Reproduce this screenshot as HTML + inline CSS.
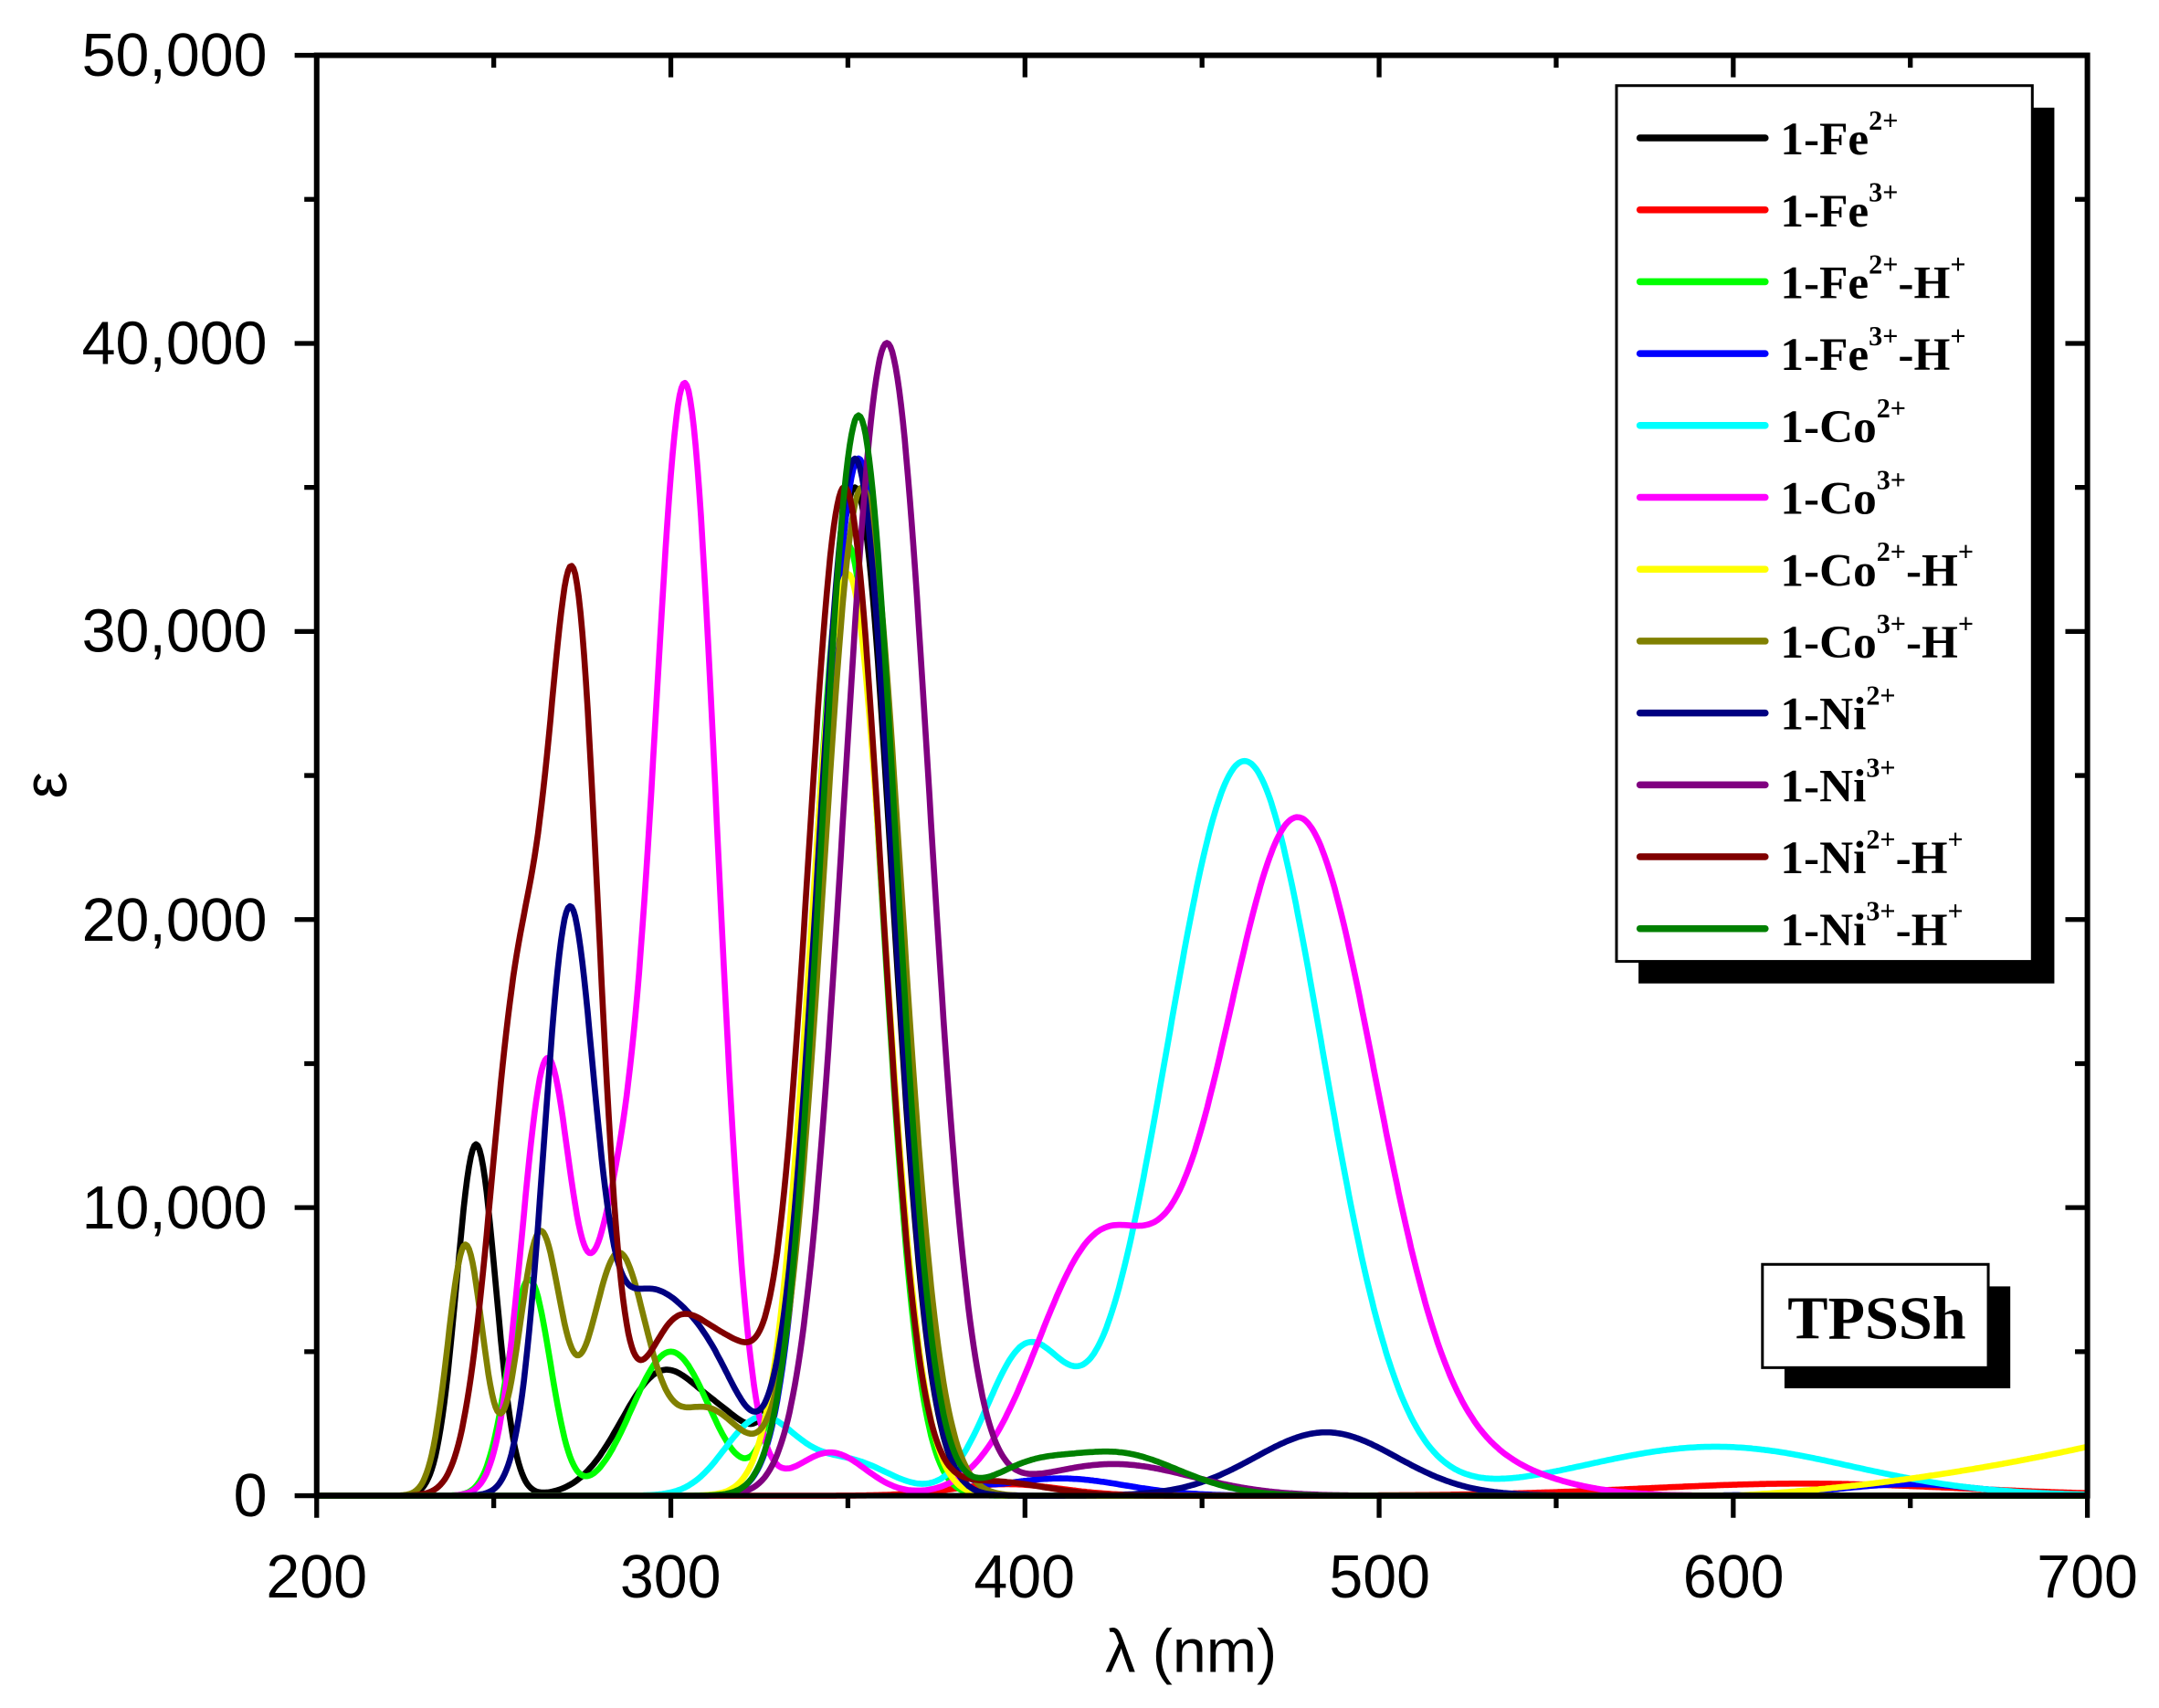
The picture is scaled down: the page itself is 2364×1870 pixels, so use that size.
<!DOCTYPE html>
<html><head><meta charset="utf-8"><style>html,body{margin:0;padding:0;background:#fff}svg{display:block}</style></head>
<body>
<svg id="s" width="2364" height="1870" viewBox="0 0 1568 1240" xmlns="http://www.w3.org/2000/svg">
<rect width="1568" height="1240" fill="#fff"/>
<g id="curves" fill="none" stroke-width="4.4" stroke-linejoin="round"></g>
<g stroke="#000" stroke-width="4" fill="none">
<rect x="230" y="40" width="1286" height="1046"/>
</g>
<g id="ticks" stroke="#000" stroke-width="3.5"></g>
<g font-family="Liberation Sans, Arial, sans-serif" font-size="44" fill="#000">
<text x="194" y="55" text-anchor="end">50,000</text>
<text x="194" y="264" text-anchor="end">40,000</text>
<text x="194" y="473" text-anchor="end">30,000</text>
<text x="194" y="683" text-anchor="end">20,000</text>
<text x="194" y="892" text-anchor="end">10,000</text>
<text x="194" y="1101" text-anchor="end">0</text>
<text x="230" y="1160" text-anchor="middle">200</text>
<text x="487" y="1160" text-anchor="middle">300</text>
<text x="744" y="1160" text-anchor="middle">400</text>
<text x="1002" y="1160" text-anchor="middle">500</text>
<text x="1259" y="1160" text-anchor="middle">600</text>
<text x="1516" y="1160" text-anchor="middle">700</text>
<text x="865" y="1214" text-anchor="middle" font-size="44">λ (nm)</text>
<text x="0" y="0" font-size="44" text-anchor="middle" transform="translate(48,570) rotate(-90)">ε</text>
</g>
<rect x="1190" y="78" width="302" height="636" fill="#000"/>
<rect x="1174" y="62" width="302" height="636" fill="#fff" stroke="#000" stroke-width="2"/>
<g id="leg" font-family="Liberation Serif, Times New Roman, serif" font-weight="bold" font-size="34" fill="#000"></g>
<rect x="1296" y="934" width="164" height="74" fill="#000"/>
<rect x="1280" y="918" width="164" height="75" fill="#fff" stroke="#000" stroke-width="2"/>
<text x="1363" y="972" text-anchor="middle" font-family="Liberation Serif, Times New Roman, serif" font-weight="bold" font-size="44">TPSSh</text>
</svg>
<script>
var NS="http://www.w3.org/2000/svg";
function X(nm){return 230+(nm-200)*2.572;}
function Y(v){return 1086-v*0.02092;}
var series=[
["#000000",[[245,12200,5.5],[298,4300,12],[318,1500,8],[352,35000,10.5]]],
["#ff0000",[[395,400,15],[620,420,45]]],
["#00ff00",[[260,7500,6],[300,5000,11],[350,33000,10]]],
["#0000ff",[[353,36000,10.5],[410,600,18],[650,400,20]]],
["#00ffff",[[325,2600,10],[350,1200,12],[400,4800,11],[462,25500,22],[595,1700,38]]],
["#ff00ff",[[265,15000,7],[284,7500,7],[304,38500,9],[345,1500,10],[420,8300,17],[477,23500,22],[530,800,20]]],
["#ffff00",[[350,32000,10.5]],1],
["#808000",[[242,8700,5],[263,9000,6],[285,8200,8],[310,3000,11],[354,35000,11]]],
["#000080",[[271,19000,7],[292,6500,12],[312,3500,10],[352,36000,10.5],[485,2200,20]]],
["#800080",[[361,40000,12],[425,1100,22]]],
["#800000",[[257,17000,8],[273,29500,7],[302,6000,11],[320,3000,8],[349,35000,10.5],[390,500,15]]],
["#008000",[[353,37500,10.5],[425,1500,18],[400,600,10]]]
];
var g=document.getElementById("curves");
series.forEach(function(s){
 var d="";
 for(var nm=200;nm<=700;nm+=0.5){
  var v=0;s[1].forEach(function(p){v+=p[1]*Math.exp(-0.5*Math.pow((nm-p[0])/p[2],2));});
  if(s[2]&&nm>600){v+=1700*(nm-600)/100*(nm-600)/100*0.6+1700*0.4*(nm-600)/100;}
  d+=(nm==200?"M":"L")+X(nm).toFixed(1)+" "+Y(v).toFixed(1);
 }
 var p=document.createElementNS(NS,"path");p.setAttribute("d",d);p.setAttribute("stroke",s[0]);g.appendChild(p);
});
var t=document.getElementById("ticks"),td="";
for(var i=0;i<=10;i++){var y=Y(i*5000);var L=(i%2==0)?16:9;
 td+="M230 "+y+"h-"+L+"M1516 "+y+"h-"+L;}
for(var i=0;i<=10;i++){var x=X(200+i*50);var L=(i%2==0)?16:9;
 td+="M"+x+" 1086v"+L+"M"+x+" 40v"+L;}
var tp=document.createElementNS(NS,"path");tp.setAttribute("d",td);t.appendChild(tp);
var labs=[["Fe","2+",""],["Fe","3+",""],["Fe","2+","-H"],["Fe","3+","-H"],["Co","2+",""],["Co","3+",""],["Co","2+","-H"],["Co","3+","-H"],["Ni","2+",""],["Ni","3+",""],["Ni","2+","-H"],["Ni","3+","-H"]];
var lg=document.getElementById("leg"),h="";
labs.forEach(function(l,i){var y=100+i*52.2;
 h+='<line x1="1191" y1="'+y+'" x2="1282" y2="'+y+'" stroke="'+series[i][0]+'" stroke-width="5" stroke-linecap="round"/>';
 h+='<text x="1293" y="'+(y+12)+'">1-'+l[0]+'<tspan font-size="20" dy="-18">'+l[1]+'</tspan>'+(l[2]?'<tspan dy="18">'+l[2]+'</tspan><tspan font-size="20" dy="-18">+</tspan>':'')+'</text>';
});
lg.innerHTML=h;
</script>
</body></html>
